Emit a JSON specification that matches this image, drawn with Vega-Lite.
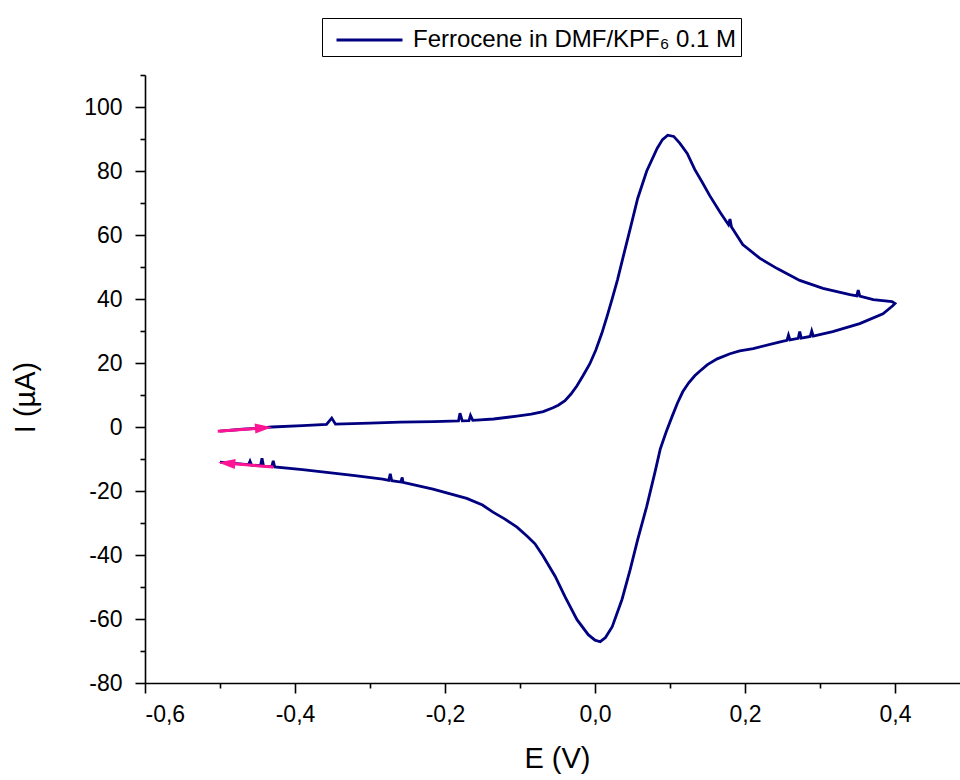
{
  "$schema": "https://vega.github.io/schema/vega-lite/v6.json",
  "autosize": {"type": "none"},
  "padding": {"left": 145, "top": 75, "right": 0, "bottom": 97},
  "width": 815,
  "height": 608,
  "background": "white",
  "config": {
    "view": {"stroke": null},
    "font": "Liberation Sans",
    "axis": {
      "grid": false,
      "domainColor": "black",
      "domainWidth": 1.6,
      "tickColor": "black",
      "tickWidth": 1.6,
      "labelColor": "black",
      "titleColor": "black",
      "labelFont": "Liberation Sans",
      "titleFont": "Liberation Sans",
      "labelFontSize": 23,
      "titleFontSize": 29,
      "titleFontWeight": "normal"
    }
  },
  "datasets": {
    "cv": [
      {"o": 1, "E": -0.500, "I": -1.3},
      {"o": 2, "E": -0.470, "I": -0.7},
      {"o": 3, "E": -0.444, "I": -0.3},
      {"o": 4, "E": -0.431, "I": 0.0},
      {"o": 5, "E": -0.390, "I": 0.4},
      {"o": 6, "E": -0.358, "I": 0.8},
      {"o": 7, "E": -0.351, "I": 2.8},
      {"o": 8, "E": -0.346, "I": 0.9},
      {"o": 9, "E": -0.300, "I": 1.2},
      {"o": 10, "E": -0.260, "I": 1.5},
      {"o": 11, "E": -0.215, "I": 1.7},
      {"o": 12, "E": -0.182, "I": 1.9},
      {"o": 13, "E": -0.180, "I": 4.3},
      {"o": 14, "E": -0.177, "I": 1.9},
      {"o": 15, "E": -0.168, "I": 2.0},
      {"o": 16, "E": -0.166, "I": 3.6},
      {"o": 17, "E": -0.163, "I": 2.1},
      {"o": 18, "E": -0.135, "I": 2.5},
      {"o": 19, "E": -0.104, "I": 3.4},
      {"o": 20, "E": -0.085, "I": 4.0},
      {"o": 21, "E": -0.069, "I": 4.8},
      {"o": 22, "E": -0.056, "I": 6.0},
      {"o": 23, "E": -0.049, "I": 6.8},
      {"o": 24, "E": -0.040, "I": 8.2},
      {"o": 25, "E": -0.032, "I": 10.3},
      {"o": 26, "E": -0.024, "I": 12.9},
      {"o": 27, "E": -0.016, "I": 16.0},
      {"o": 28, "E": -0.007, "I": 19.7},
      {"o": 29, "E": 0.001, "I": 24.0},
      {"o": 30, "E": 0.009, "I": 29.2},
      {"o": 31, "E": 0.016, "I": 34.5},
      {"o": 32, "E": 0.023, "I": 40.1},
      {"o": 33, "E": 0.030, "I": 46.0},
      {"o": 34, "E": 0.036, "I": 51.7},
      {"o": 35, "E": 0.047, "I": 62.0},
      {"o": 36, "E": 0.057, "I": 71.5},
      {"o": 37, "E": 0.069, "I": 80.0},
      {"o": 38, "E": 0.083, "I": 87.1},
      {"o": 39, "E": 0.090, "I": 89.8},
      {"o": 40, "E": 0.097, "I": 91.2},
      {"o": 41, "E": 0.105, "I": 90.8},
      {"o": 42, "E": 0.113, "I": 88.7},
      {"o": 43, "E": 0.123, "I": 85.5},
      {"o": 44, "E": 0.133, "I": 80.5},
      {"o": 45, "E": 0.143, "I": 76.5},
      {"o": 46, "E": 0.153, "I": 72.3},
      {"o": 47, "E": 0.167, "I": 67.0},
      {"o": 48, "E": 0.178, "I": 63.2},
      {"o": 49, "E": 0.180, "I": 65.0},
      {"o": 50, "E": 0.182, "I": 62.5},
      {"o": 51, "E": 0.197, "I": 57.0},
      {"o": 52, "E": 0.220, "I": 52.7},
      {"o": 53, "E": 0.243, "I": 49.5},
      {"o": 54, "E": 0.273, "I": 45.8},
      {"o": 55, "E": 0.304, "I": 43.3},
      {"o": 56, "E": 0.340, "I": 41.4},
      {"o": 57, "E": 0.349, "I": 41.0},
      {"o": 58, "E": 0.351, "I": 42.8},
      {"o": 59, "E": 0.353, "I": 40.9},
      {"o": 60, "E": 0.371, "I": 39.8},
      {"o": 61, "E": 0.396, "I": 39.2},
      {"o": 62, "E": 0.400, "I": 38.6},
      {"o": 63, "E": 0.397, "I": 37.9},
      {"o": 64, "E": 0.384, "I": 35.4},
      {"o": 65, "E": 0.353, "I": 32.3},
      {"o": 66, "E": 0.317, "I": 29.8},
      {"o": 67, "E": 0.291, "I": 28.4},
      {"o": 68, "E": 0.289, "I": 30.0},
      {"o": 69, "E": 0.287, "I": 28.3},
      {"o": 70, "E": 0.275, "I": 27.8},
      {"o": 71, "E": 0.273, "I": 29.8},
      {"o": 72, "E": 0.271, "I": 27.7},
      {"o": 73, "E": 0.260, "I": 27.2},
      {"o": 74, "E": 0.258, "I": 28.7},
      {"o": 75, "E": 0.256, "I": 27.1},
      {"o": 76, "E": 0.247, "I": 26.6},
      {"o": 77, "E": 0.211, "I": 24.5},
      {"o": 78, "E": 0.193, "I": 23.8},
      {"o": 79, "E": 0.180, "I": 22.9},
      {"o": 80, "E": 0.163, "I": 21.3},
      {"o": 81, "E": 0.150, "I": 19.5},
      {"o": 82, "E": 0.140, "I": 17.5},
      {"o": 83, "E": 0.133, "I": 16.0},
      {"o": 84, "E": 0.125, "I": 13.8},
      {"o": 85, "E": 0.117, "I": 11.0},
      {"o": 86, "E": 0.110, "I": 7.5},
      {"o": 87, "E": 0.103, "I": 3.4},
      {"o": 88, "E": 0.095, "I": -1.5},
      {"o": 89, "E": 0.087, "I": -6.9},
      {"o": 90, "E": 0.080, "I": -14.1},
      {"o": 91, "E": 0.069, "I": -24.8},
      {"o": 92, "E": 0.057, "I": -35.1},
      {"o": 93, "E": 0.047, "I": -44.5},
      {"o": 94, "E": 0.036, "I": -53.9},
      {"o": 95, "E": 0.023, "I": -62.4},
      {"o": 96, "E": 0.014, "I": -65.8},
      {"o": 97, "E": 0.007, "I": -67.1},
      {"o": 98, "E": 0.000, "I": -66.6},
      {"o": 99, "E": -0.009, "I": -64.9},
      {"o": 100, "E": -0.024, "I": -60.2},
      {"o": 101, "E": -0.040, "I": -53.0},
      {"o": 102, "E": -0.053, "I": -46.7},
      {"o": 103, "E": -0.069, "I": -40.4},
      {"o": 104, "E": -0.080, "I": -36.5},
      {"o": 105, "E": -0.090, "I": -34.2},
      {"o": 106, "E": -0.104, "I": -31.3},
      {"o": 107, "E": -0.120, "I": -28.8},
      {"o": 108, "E": -0.136, "I": -26.6},
      {"o": 109, "E": -0.150, "I": -24.4},
      {"o": 110, "E": -0.171, "I": -22.3},
      {"o": 111, "E": -0.216, "I": -19.4},
      {"o": 112, "E": -0.250, "I": -17.6},
      {"o": 113, "E": -0.256, "I": -17.3},
      {"o": 114, "E": -0.257, "I": -15.8},
      {"o": 115, "E": -0.259, "I": -17.2},
      {"o": 116, "E": -0.271, "I": -16.8},
      {"o": 117, "E": -0.273, "I": -14.6},
      {"o": 118, "E": -0.275, "I": -16.7},
      {"o": 119, "E": -0.283, "I": -16.3},
      {"o": 120, "E": -0.320, "I": -15.2},
      {"o": 121, "E": -0.349, "I": -14.4},
      {"o": 122, "E": -0.390, "I": -13.3},
      {"o": 123, "E": -0.427, "I": -12.5},
      {"o": 124, "E": -0.429, "I": -10.6},
      {"o": 125, "E": -0.431, "I": -12.4},
      {"o": 126, "E": -0.442, "I": -12.2},
      {"o": 127, "E": -0.444, "I": -9.8},
      {"o": 128, "E": -0.446, "I": -12.1},
      {"o": 129, "E": -0.458, "I": -11.9},
      {"o": 130, "E": -0.460, "I": -10.7},
      {"o": 131, "E": -0.462, "I": -11.8},
      {"o": 132, "E": -0.470, "I": -11.6},
      {"o": 133, "E": -0.500, "I": -11.0}
    ],
    "arrows": [
      {"dir": "forward", "E1": -0.503, "I1": -1.3, "E2": -0.442, "I2": -0.3},
      {"dir": "reverse", "E1": -0.429, "I1": -12.5, "E2": -0.491, "I2": -11.3}
    ],
    "series": [
      {"name": "Ferrocene in DMF/KPF₆ 0.1 M"}
    ]
  },
  "layer": [
    {
      "data": {"name": "cv"},
      "mark": {"type": "line", "strokeWidth": 2.8, "interpolate": "linear", "color": "#000080"},
      "encoding": {
        "x": {
          "field": "E", "type": "quantitative",
          "scale": {"domain": [-0.6, 0.4867], "nice": false, "zero": false},
          "axis": {
            "orient": "bottom",
            "values": [-0.6, -0.4, -0.2, 0, 0.2, 0.4],
            "tickSize": 10,
            "labelPadding": 10,
            "labelExpr": "(datum.value < -0.0001 ? '-' : '') + replace(format(abs(datum.value), '.1f'), '.', ',')",
            "title": "E (V)",
            "titlePadding": 18,
            "titleX": 412
          }
        },
        "y": {
          "field": "I", "type": "quantitative",
          "scale": {"domain": [-80, 110], "nice": false, "zero": false},
          "axis": {
            "orient": "left",
            "values": [-80, -60, -40, -20, 0, 20, 40, 60, 80, 100],
            "tickSize": 10,
            "labelPadding": 13,
            "labelExpr": "(datum.value < 0 ? '-' : '') + abs(datum.value)",
            "title": "I (µA)",
            "titlePadding": 43,
            "titleY": 322
          }
        },
        "order": {"field": "o", "type": "quantitative"}
      }
    },
    {
      "data": {"name": "arrows"},
      "mark": {"type": "rule", "color": "#ff1493", "strokeWidth": 3},
      "encoding": {
        "x": {
          "field": "E1", "type": "quantitative",
          "axis": {
            "orient": "bottom",
            "values": [-0.5, -0.3, -0.1, 0.1, 0.3],
            "tickSize": 5,
            "labels": false,
            "domain": false,
            "title": null
          }
        },
        "y": {
          "field": "I1", "type": "quantitative",
          "axis": {
            "orient": "left",
            "values": [-70, -50, -30, -10, 10, 30, 50, 70, 90, 110],
            "tickSize": 5,
            "labels": false,
            "domain": false,
            "title": null
          }
        },
        "x2": {"field": "E2"},
        "y2": {"field": "I2"}
      }
    },
    {
      "data": {"name": "arrows"},
      "transform": [{"filter": "datum.dir == 'forward'"}],
      "mark": {"type": "point", "shape": "M-1.7,-1L1.7,0L-1.7,1Z", "filled": true, "opacity": 1, "color": "#ff1493", "size": 100, "angle": -4},
      "encoding": {
        "x": {"field": "E2", "type": "quantitative", "axis": null},
        "y": {"field": "I2", "type": "quantitative", "axis": null}
      }
    },
    {
      "data": {"name": "arrows"},
      "transform": [{"filter": "datum.dir == 'reverse'"}],
      "mark": {"type": "point", "shape": "M1.7,-1L-1.7,0L1.7,1Z", "filled": true, "opacity": 1, "color": "#ff1493", "size": 100, "angle": 5},
      "encoding": {
        "x": {"field": "E2", "type": "quantitative", "axis": null},
        "y": {"field": "I2", "type": "quantitative", "axis": null}
      }
    },
    {
      "data": {"name": "series"},
      "mark": {"type": "point", "opacity": 0, "filled": false},
      "encoding": {
        "color": {
          "field": "name",
          "type": "nominal",
          "scale": {"range": ["#000080"]},
          "legend": {
            "title": null,
            "orient": "none",
            "legendX": 177,
            "legendY": -57,
            "strokeColor": "black",
            "padding": 4,
            "symbolType": "M-2,0H2",
            "symbolSize": 1089,
            "symbolStrokeWidth": 2.8,
            "symbolOpacity": 1,
            "symbolStrokeColor": "#000080",
            "symbolOffset": 25.5,
            "labelOffset": 25.5,
            "labelFont": "Liberation Sans",
            "labelFontSize": 24,
            "labelColor": "black",
            "labelLimit": 600
          }
        }
      }
    }
  ],
  "resolve": {"axis": {"x": "independent", "y": "independent"}}
}
